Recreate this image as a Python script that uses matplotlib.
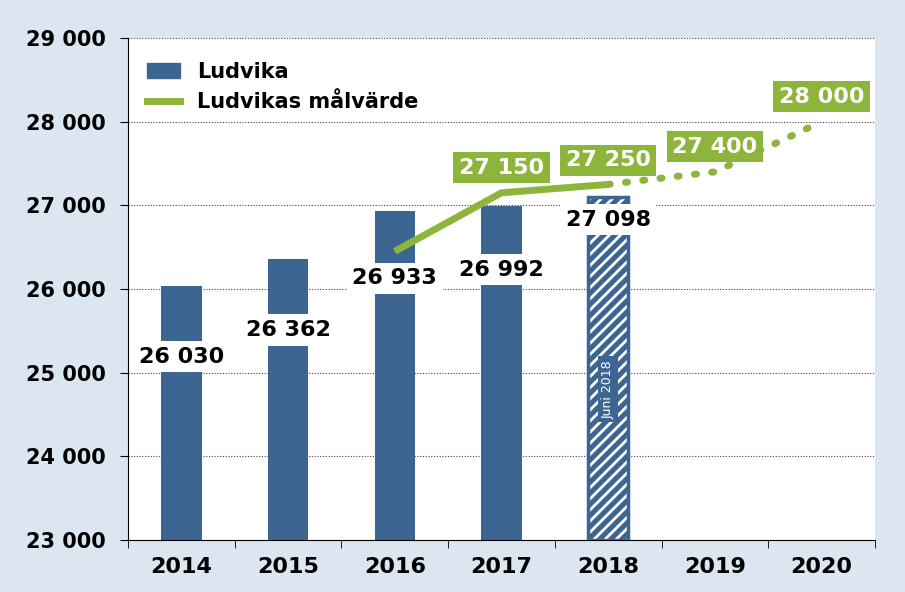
import matplotlib
matplotlib.use("Agg")
import matplotlib.pyplot as plt
from matplotlib.patches import Patch
from matplotlib.lines import Line2D

years = ["2014", "2015", "2016", "2017", "2018", "2019", "2020"]
ludvika = [26030, 26362, 26933, 26992, 27098]
target_years_solid = [2, 3, 4]
target_solid = [26450, 27150, 27250]
target_years_dot = [4, 5, 6]
target_dot = [27250, 27400, 28000]
target_labels = ["27 150", "27 250", "27 400", "28 000"]
bar_label_text = ["26 030", "26 362", "26 933", "26 992", "27 098"]
yticks = [23000, 24000, 25000, 26000, 27000, 28000, 29000]
ytick_labels = ["23 000", "24 000", "25 000", "26 000", "27 000", "28 000", "29 000"]

blue = "#3d6591"
green = "#8db53c"
bg = "#dce6f0"
plt.rcParams["hatch.linewidth"] = 2.0

fig = plt.figure(figsize=(9.05, 5.92), dpi=100, facecolor=bg)
ax = fig.add_axes([128/905, 52/592, 747/905, 502/592])
ax.set_facecolor("white")
ax.set_xlim(-0.5, 6.5)
ax.set_ylim(23000, 29000)

x = list(range(len(ludvika)))
ax.bar(x[:4], ludvika[:4], width=0.38, bottom=0, color=blue, zorder=2)
ax.bar([4], [ludvika[4]], width=0.38, color=blue, edgecolor="white", hatch="///", linewidth=0, zorder=2)
ax.bar([4], [ludvika[4] - 23000], bottom=23000, width=0.38, fill=False, edgecolor=blue, linewidth=2.5, zorder=3)
ax.text(4, 24800, "Juni 2018", rotation=90, color="white", fontsize=9, ha="center", va="center",
        bbox=dict(boxstyle="square,pad=0.3", fc=blue, ec="none"), zorder=4)

label_y = [25190, 25510, 26130, 26230, 26830]
for xi, ly, t in zip(x, label_y, bar_label_text):
    ax.text(xi, ly, t, ha="center", va="center", fontsize=16, fontweight="bold", color="black",
            bbox=dict(boxstyle="square,pad=0.25", fc="white", ec="none"), zorder=5)

ax.plot(target_years_solid, target_solid, color=green, lw=5, zorder=4, solid_capstyle="butt")
ax.plot(target_years_dot, target_dot, color=green, lw=5, ls=(0, (0.3, 2.2)), dash_capstyle="round", zorder=4)

gpos = [(3.0, 27450), (4.0, 27540), (5.0, 27700), (6.0, 28300)]
for (gx, gy), t in zip(gpos, target_labels):
    ax.text(gx, gy, t, ha="center", va="center", fontsize=16, fontweight="bold", color="white",
            bbox=dict(boxstyle="square,pad=0.25", fc=green, ec="none"), zorder=6)

ax.set_yticks(yticks)
ax.set_yticklabels(ytick_labels, fontsize=15, fontweight="bold")
ax.yaxis.grid(True, ls=(0, (1, 1.5)), color="#444444", lw=0.8, zorder=0)
ax.set_xticks(range(7))
ax.set_xticklabels(years, fontsize=16, fontweight="bold")
ax.set_xticks([i + 0.5 for i in range(-1, 7)], minor=True)
ax.tick_params(axis="x", which="major", length=0, pad=12)
ax.tick_params(axis="x", which="minor", length=6, direction="out")
ax.tick_params(axis="y", length=6, direction="out", pad=10)
for s in ["top", "right"]:
    ax.spines[s].set_visible(False)

handles = [Patch(color=blue, label="Ludvika"), Line2D([0], [0], color=green, lw=5, label="Ludvikas målvärde")]
ax.legend(handles=handles, loc="upper left", bbox_to_anchor=(0.0, 0.99), frameon=False,
          prop=dict(size=15, weight="bold"), handlelength=1.6)

fig.savefig("out.png", dpi=100, facecolor=bg)
